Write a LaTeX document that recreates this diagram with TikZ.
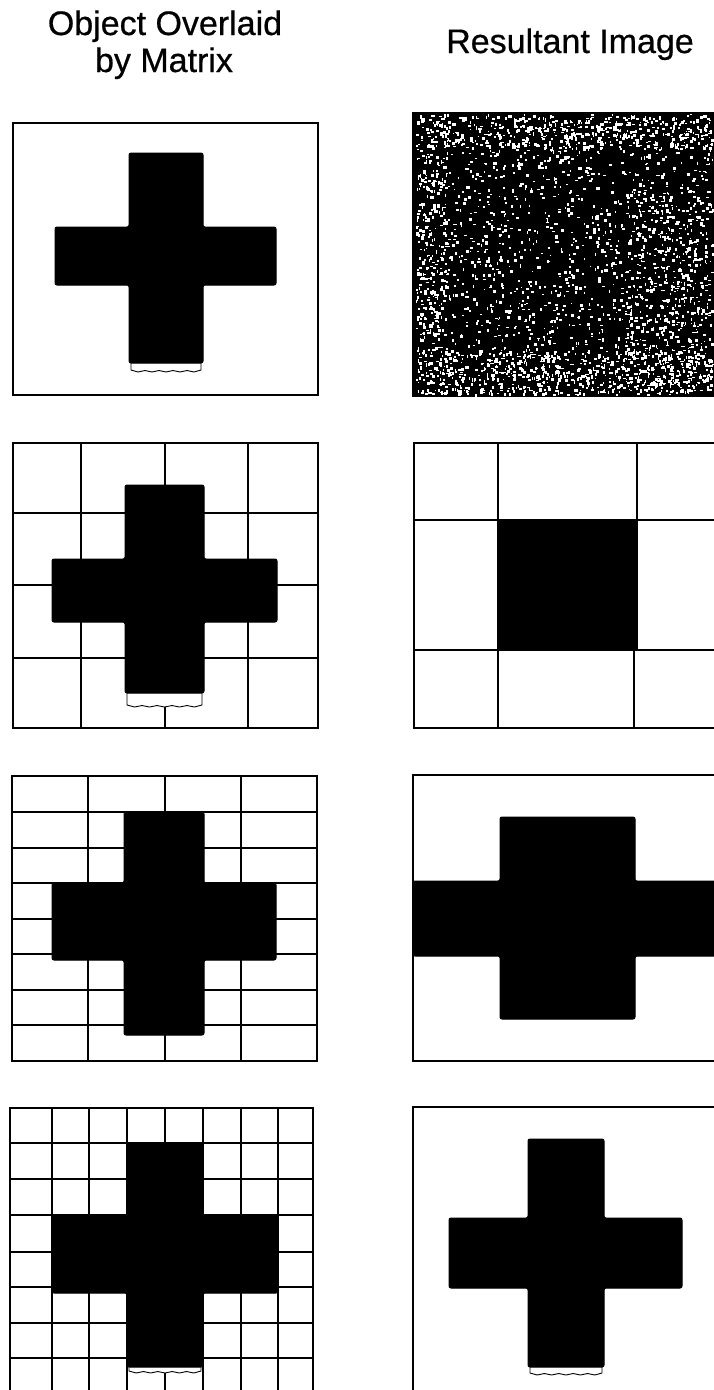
\documentclass[tikz,border=0pt]{standalone}
\usepackage{fontspec}
\setmainfont{Liberation Sans}
\newfontfamily\titlefont[FakeBold=0.6]{Liberation Sans}
\tikzset{
  title/.style={font=\titlefont\fontsize{34}{40}\selectfont, inner sep=0pt, anchor=base},
  frame/.style={draw=black, line width=2.6pt, fill=white},
  gridline/.style={draw=black, line width=2.4pt},
  solid black/.style={fill=black, draw=black, line width=1pt, rounded corners=2pt},
  fringe/.style={draw=black, line width=0.9pt, fill=white}
}
% plus shape: vx1 vx2 vy1 vy2 hx1 hx2 hy1 hy2
\newcommand\plusshape[8]{%
  \path[solid black] (#1,#3) -- (#2,#3) -- (#2,#7) -- (#6,#7) -- (#6,#8) -- (#2,#8)
    -- (#2,#4) -- (#1,#4) -- (#1,#8) -- (#5,#8) -- (#5,#7) -- (#1,#7) -- cycle;}
% fringe under a bar: x1 x2 ytop ybottom
\newcommand\raggedfringe[4]{%
  \path[fringe] (#1+2,#3) -- (#1+2,#4-2)
    \foreach \k in {1,...,9} { -- ({#1+2+(#2-#1-4)*\k/10},{#4-1.5+1.5*mod(\k,2)}) }
    -- (#2-2,#4-2) -- (#2-2,#3);}
% random white specks: count, x0, width, y0, height
\newcommand\specks[5]{%
  \foreach \i in {1,...,#1} {
    \pgfmathsetmacro\xx{#2+#3*rnd}
    \pgfmathsetmacro\yy{#4+#5*rnd}
    \pgfmathsetmacro\ww{0.9+2.6*rnd}
    \pgfmathsetmacro\hh{0.9+2.6*rnd}
    \fill[white] (\xx,\yy) rectangle ++(\ww,\hh);
  }}
\begin{document}
\begin{tikzpicture}[x=1pt,y=-1pt]
\useasboundingbox (0,0) rectangle (714,1390);
\fill[white] (0,0) rectangle (714,1390);
\begin{scope}
\clip (0,0) rectangle (714,1390);

% ---------- titles ----------
\node[title] (t1) at (165,35) {Object Overlaid};
\node[title] (t2) at (164,72) {by Matrix};
\node[title] (t3) at (570,53) {Resultant Image};

% ---------- row 1 ----------
\path[frame] (13,123) rectangle (318,395);
\raggedfringe{129}{203}{360}{372}
\plusshape{129}{203}{153}{363}{55}{276}{227}{285}

% noise image
\fill[black] (412,112) rectangle (730,397);
\pgfmathsetseed{1234}
\specks{1500}{416}{296}{115}{279}
\specks{420}{416}{296}{114}{34}
\specks{480}{416}{296}{350}{44}
\specks{380}{625}{88}{190}{200}
\specks{200}{416}{30}{150}{200}

% ---------- row 2 ----------
\path[frame] (13,443) rectangle (318,728);
\foreach \gx in {81,165,248} \draw[gridline] (\gx,443) -- (\gx,728);
\foreach \gy in {513,585,658} \draw[gridline] (13,\gy) -- (318,\gy);
\raggedfringe{125}{204}{690}{707}
\plusshape{125}{204}{485}{693}{52}{277}{559}{622}

\path[frame] (414,443) rectangle (730,728);
\draw[gridline] (498,443) -- (498,728);
\draw[gridline] (637,443) -- (637,650);
\draw[gridline] (634,650) -- (634,728);
\draw[gridline] (414,520) -- (730,520);
\draw[gridline] (414,650) -- (730,650);
\fill[black] (498,520) rectangle (637,650);

% ---------- row 3 ----------
\path[frame] (12,776) rectangle (317,1061);
\foreach \gx in {88,165,241} \draw[gridline] (\gx,776) -- (\gx,1061);
\foreach \gy in {812,848,883,919,954,990,1025} \draw[gridline] (12,\gy) -- (317,\gy);
\plusshape{124}{204}{812}{1035}{52}{276}{883}{960}

\path[frame] (413,775) rectangle (730,1061);
\plusshape{500}{635}{817}{1019}{413}{740}{881}{956}

% ---------- row 4 ----------
\path[frame] (10,1108) rectangle (313,1394);
\foreach \gx in {52,89,127,165,203,241,278} \draw[gridline] (\gx,1108) -- (\gx,1394);
\foreach \gy in {1143,1179,1215,1252,1287,1323,1358} \draw[gridline] (10,\gy) -- (313,\gy);
\raggedfringe{127}{203}{1364}{1373}
\plusshape{127}{203}{1143}{1367}{52}{278}{1215}{1293}

\path[frame] (413,1107) rectangle (730,1394);
\raggedfringe{528}{604}{1364}{1375}
\plusshape{528}{604}{1139}{1367}{449}{682}{1218}{1288}
\end{scope}
\end{tikzpicture}
\end{document}
